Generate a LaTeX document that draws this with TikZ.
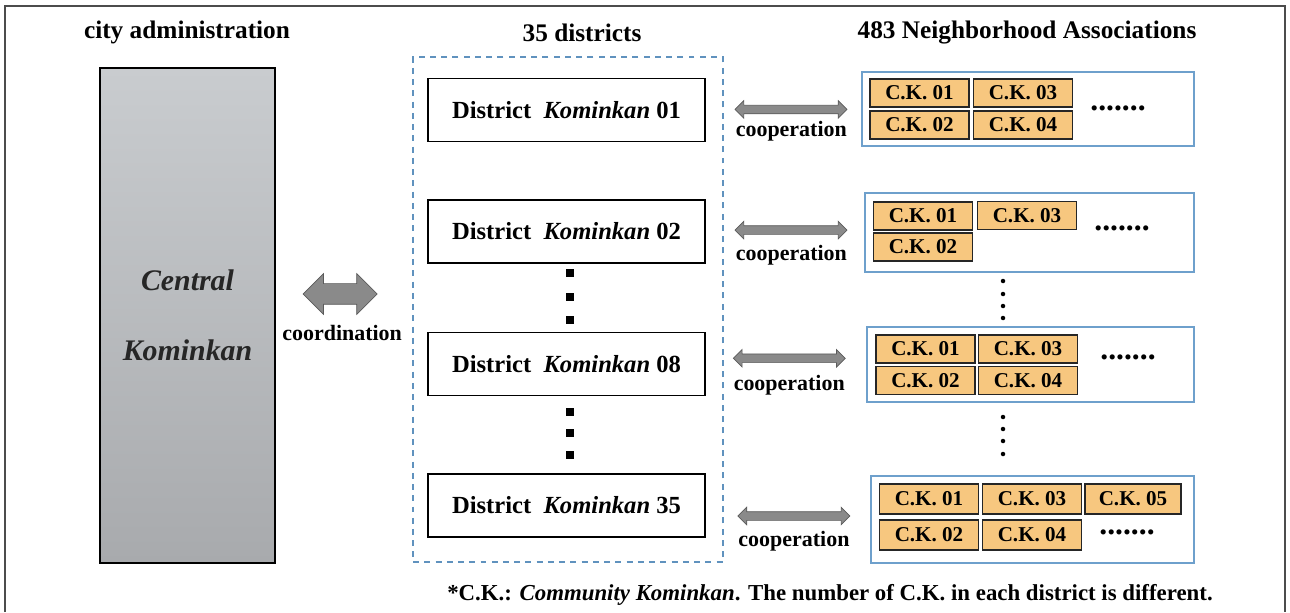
\documentclass[tikz,border=0pt]{standalone}
\usepackage{fontspec}
\setmainfont{Liberation Serif}
\usetikzlibrary{shapes.arrows}
\definecolor{centraltop}{RGB}{201,204,207}
\definecolor{centralbot}{RGB}{168,170,173}
\definecolor{dashblue}{RGB}{96,146,190}
\definecolor{assocblue}{RGB}{110,160,204}
\definecolor{ckorange}{RGB}{247,199,127}
\definecolor{arrowgray}{RGB}{138,138,138}
\definecolor{arrowdark}{RGB}{90,90,90}

\begin{document}
\begin{tikzpicture}[x=0.02cm, y=-0.02cm,
  title/.style={font=\fontsize{14.4}{16}\selectfont\bfseries},
  lbl/.style={font=\fontsize{12.5}{14}\selectfont\bfseries},
  district/.style={draw, line width=1.1pt, fill=white, minimum width=5.54cm, minimum height=1.26cm, font=\fontsize{14}{16}\selectfont\bfseries},
  assoc/.style={draw=assocblue, line width=1pt, fill=white},
  ck/.style={draw=black!85, line width=0.9pt, fill=ckorange, minimum width=1.98cm, minimum height=0.56cm, inner sep=0pt, font=\fontsize{12}{14}\selectfont\bfseries},
  coop/.style={double arrow, draw=arrowdark, fill=arrowgray, line width=0.4pt, minimum width=0pt, minimum height=2.24cm, inner sep=0.08cm, double arrow head extend=0.09cm},
  coordarrow/.style={double arrow, draw=arrowdark, fill=arrowgray, line width=0.4pt, minimum width=0pt, minimum height=1.48cm, inner sep=0.2cm, double arrow head extend=0.2cm},
  moredots/.style={font=\fontsize{18}{20}\selectfont\bfseries}]
\useasboundingbox (0,0) rectangle (1290,612);
% frame
\draw[black!70, line width=0.9pt] (5,612) |- (1285,6) -- (1285,612);

% headings
\node[title] (tCity) at (187,32) {city administration};
\node[title] (tDist) at (582,33) {35 districts};
\node[title] (tAssoc) at (1027,33) {483 Neighborhood Associations};

% city level
\node[draw, line width=1.2pt, top color=centraltop, bottom color=centralbot, minimum width=3.5cm, minimum height=9.9cm, align=center, text=black!85, font=\fontsize{17}{40}\selectfont\bfseries\itshape] (central) at (187.5,315.5) {Central\\Kominkan};

% districts
\node[draw=dashblue, dashed, dash pattern=on 3.4pt off 3pt, line width=0.8pt, minimum width=6.2cm, minimum height=10.1cm] (dists) at (568,309.5) {};
\node[district] (d01) at (566.5,110) {District\ \ \textit{Kominkan} 01};
\node[district] (d02) at (566.5,231.5) {District\ \ \textit{Kominkan} 02};
\node[district] (d08) at (566.5,364) {District\ \ \textit{Kominkan} 08};
\node[district] (d35) at (566.5,505.5) {District\ \ \textit{Kominkan} 35};
\foreach \y in {273,297,320,412,433,455}
  \fill (566,\y-4) rectangle (574,\y+4);

% neighborhood associations
\node[assoc, minimum width=6.64cm, minimum height=1.48cm] (na01) at (1028,109) {};
\node[ck] (na01a) at (919.5,93) {C.K. 01};
\node[ck] (na01b) at (919.5,125) {C.K. 02};
\node[ck] (na01c) at (1023,93) {C.K. 03};
\node[ck] (na01d) at (1023,125) {C.K. 04};
\node[moredots] (na01e) at (1118,108) {.......};

\node[assoc, minimum width=6.58cm, minimum height=1.58cm] (na02) at (1029.5,232.5) {};
\node[ck] (na02a) at (923,216) {C.K. 01};
\node[ck] (na02b) at (923,247) {C.K. 02};
\node[ck] (na02c) at (1027,215.5) {C.K. 03};
\node[moredots] (na02e) at (1122,228) {.......};

\node[assoc, minimum width=6.54cm, minimum height=1.5cm] (na08) at (1030.5,364.5) {};
\node[ck] (na08a) at (925.5,349) {C.K. 01};
\node[ck] (na08b) at (925.5,380.5) {C.K. 02};
\node[ck] (na08c) at (1028,349) {C.K. 03};
\node[ck] (na08d) at (1028,380.5) {C.K. 04};
\node[moredots] (na08e) at (1128,357) {.......};

\node[assoc, minimum width=6.46cm, minimum height=1.74cm] (na35) at (1032.5,519.5) {};
\node[ck, minimum height=0.6cm] (na35a) at (929,499) {C.K. 01};
\node[ck, minimum height=0.6cm] (na35b) at (929,535) {C.K. 02};
\node[ck, minimum height=0.6cm] (na35c) at (1032,499) {C.K. 03};
\node[ck, minimum height=0.6cm] (na35d) at (1032,535) {C.K. 04};
\node[ck, minimum height=0.6cm, minimum width=1.92cm] (na35f) at (1133,499) {C.K. 05};
\node[moredots] (na35e) at (1127,532) {.......};
\foreach \y in {281,294,306,318,417,429,441,454}
  \fill (1003,\y) circle[radius=0.045cm];

% arrows
\path (central.east) -- node[coordarrow, pos=0.47, yshift=0.374cm] {} node[lbl, pos=0.485, yshift=-0.406cm] {coordination} (dists.west);
\path (d01.east) -- node[coop, pos=0.548] {} node[lbl, pos=0.55, yshift=-0.44cm] {cooperation} (na01.west);
\path (d02.east) -- node[coop, pos=0.5375, yshift=0.04cm] {} node[lbl, pos=0.54, yshift=-0.46cm] {cooperation} (na02.west);
\path (d08.east) -- node[coop, pos=0.52, yshift=0.12cm] {} node[lbl, pos=0.52, yshift=-0.42cm] {cooperation} (na08.west);
\path (d35.east) -- node[coop, pos=0.536, yshift=-0.06cm] {} node[lbl, pos=0.536, yshift=-0.56cm] {cooperation} (na35.west);

% footnote
\node[font=\fontsize{13}{15}\selectfont\bfseries] (note) at (830,595) {*C.K.: \textit{Community Kominkan}. The number of C.K. in each district is different.};
\end{tikzpicture}
\end{document}
